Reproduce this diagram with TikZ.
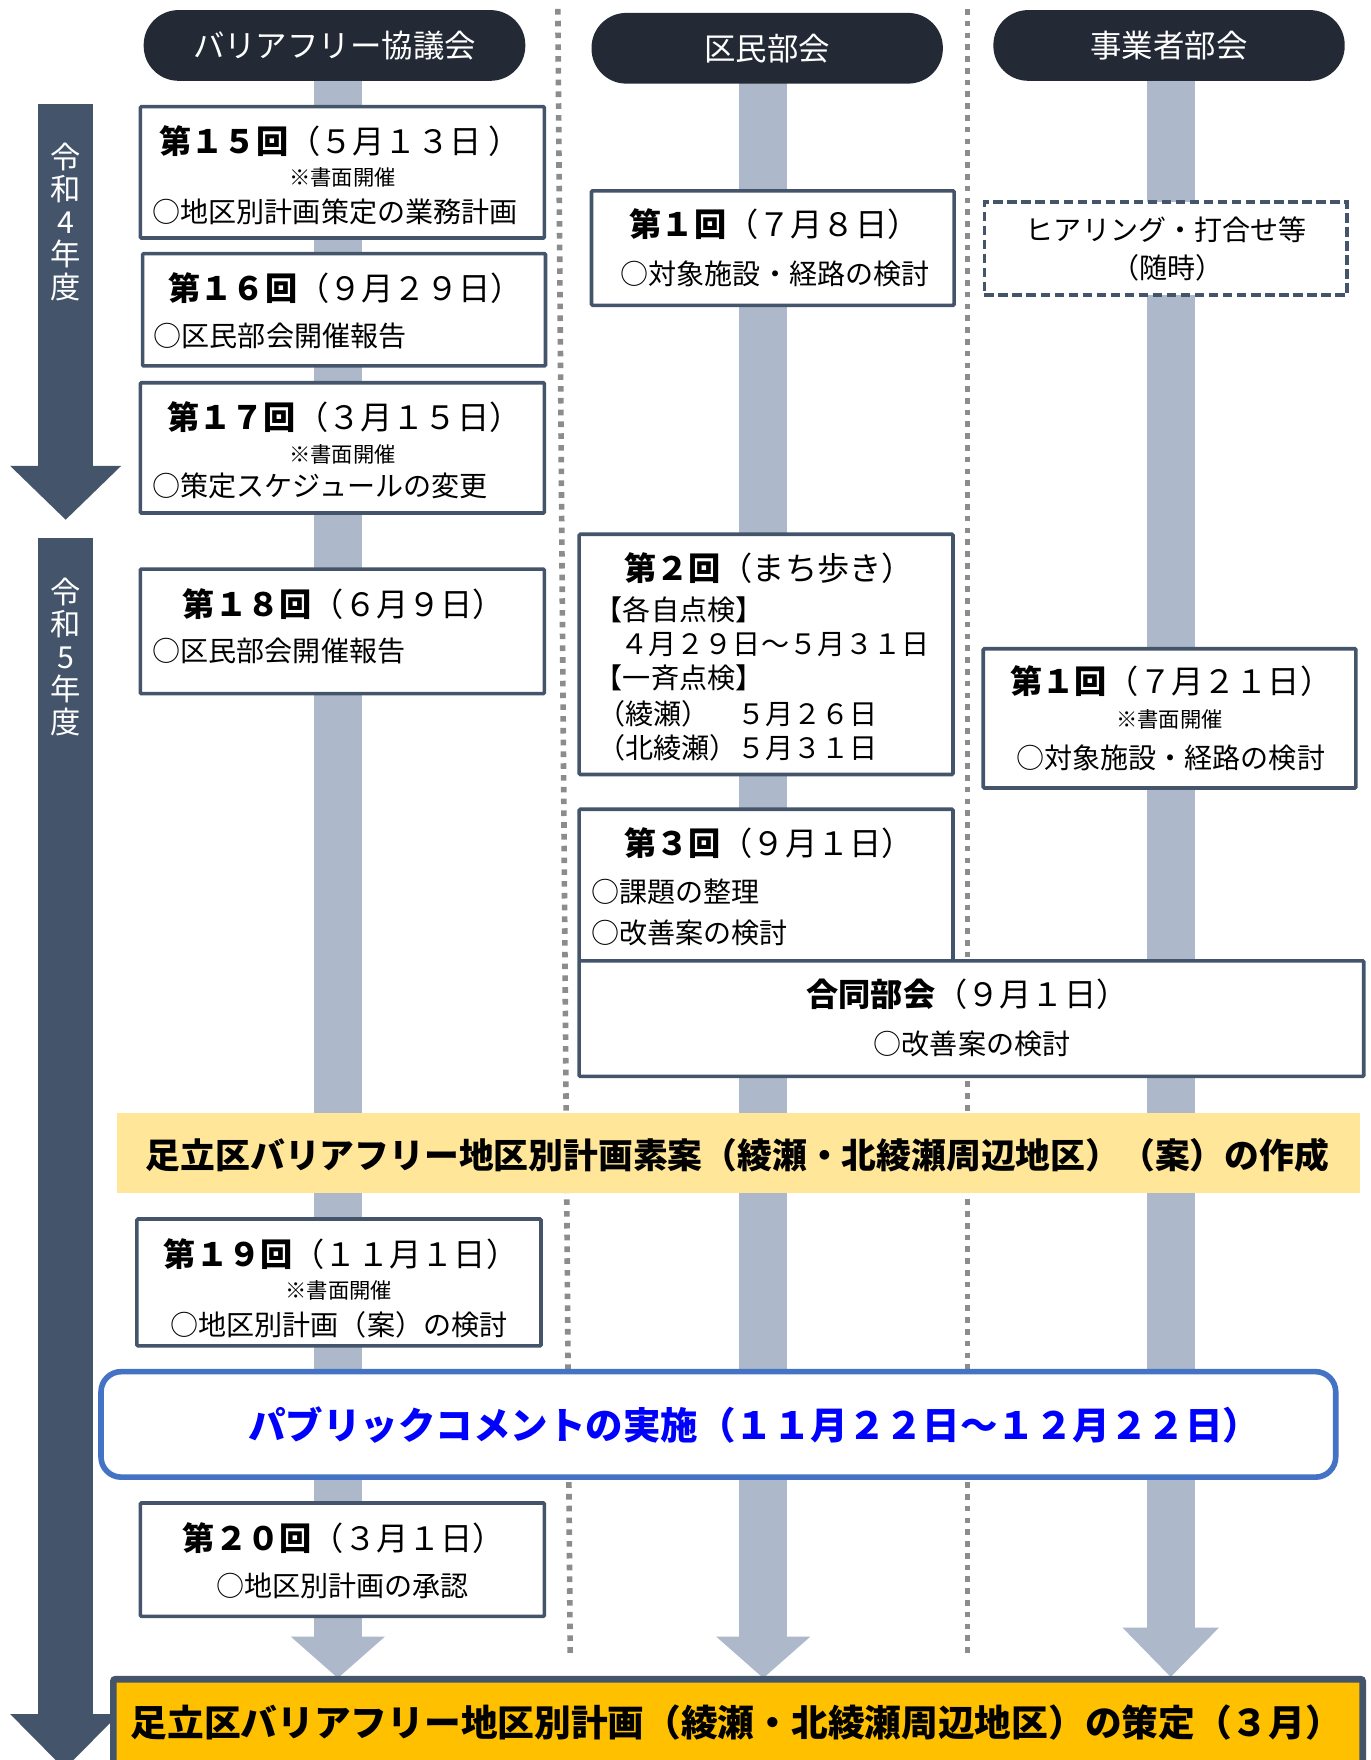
\documentclass[tikz,border=0pt]{standalone}
\usepackage{fontspec}
\setmainfont{Noto Sans CJK JP}
\usetikzlibrary{calc}
\definecolor{navy}{HTML}{232A36}
\definecolor{boxc}{HTML}{44546A}
\definecolor{barc}{HTML}{ADB9CA}
\definecolor{dotc}{HTML}{8C8C8C}
\definecolor{bandA}{HTML}{FFE699}
\definecolor{bandB}{HTML}{FFC000}
\definecolor{pubc}{HTML}{4472C4}
\definecolor{pubt}{HTML}{0000FF}
\newcommand\fsz[1]{\fontsize{#1}{#1}\selectfont}
\begin{document}
\begin{tikzpicture}[x=1pt,y=-1pt,
  every node/.style={inner sep=0pt, outer sep=0pt},
  pill/.style={fill=navy, rounded corners=31pt, text=white, font=\fsz{28}, minimum height=63pt},
  boxst/.style={draw=boxc, line width=3.2pt, fill=white, anchor=north west, rounded corners=1pt},
  dashbox/.style={draw=boxc, line width=3.2pt, dash pattern=on 8.5pt off 4pt, fill=white, anchor=north west},
  ttl/.style={font=\fsz{28.7}},
  body/.style={font=\fsz{25}},
  note/.style={font=\fsz{19}},
  yr/.style={text=white, font=\fontsize{27}{29}\selectfont, align=center},
  bar/.style={fill=barc},
  sep/.style={draw=dotc, line width=5pt, dash pattern=on 5pt off 5.5pt},
  arrowc/.style={fill=boxc},
]
\path[use as bounding box] (0,0) rectangle (1221,1568);

% column bars
\fill[bar] (279.5,60) rectangle (322.5,1459);
\fill[bar] (259,1458) -- (343,1458) -- (301,1495) -- cycle;
\fill[bar] (658.5,60) rectangle (701.5,1459);
\fill[bar] (638,1458) -- (722,1458) -- (680,1495) -- cycle;
\fill[bar] (1021.5,60) rectangle (1064.5,1451);
\fill[bar] (1000,1450) -- (1086,1450) -- (1043,1494) -- cycle;

% separators
\coordinate (s1a) at (497,8); \coordinate (s1b) at (508,1476);
\coordinate (s2a) at (862,8); \coordinate (s2b) at (862,1476);
\draw[sep] (s1a) -- (s1b);
\draw[sep] (s2a) -- (s2b);

% headers
\node[pill, minimum width=340pt] (h1) at (298,40.5) {バリアフリー協議会};
\node[pill, minimum width=313pt] (h2) at (683.5,43) {区民部会};
\node[pill, minimum width=313pt] (h3) at (1041.5,40.5) {事業者部会};

% year arrows
\fill[arrowc] (34,93) rectangle (83,416);
\fill[arrowc] (9,415) -- (108,415) -- (58.5,463) -- cycle;
\node[yr] (y4) at (58.5,197.5) {令\\和\\4\\年\\度};
\fill[arrowc] (34,479) rectangle (83,1528);
\fill[arrowc] (9,1527) -- (106,1527) -- (57.5,1576) -- cycle;
\node[yr] (y5) at (58.5,585) {令\\和\\5\\年\\度};

% column 1
\node[boxst, minimum width=360pt, minimum height=117pt] (b15) at (125,95) {};
\node[ttl, anchor=west] (b15t) at (142,126) {{\bfseries 第１５回}（５月１３日\hspace{6pt}）};
\node[note] (b15n) at (305,158) {※書面開催};
\node[body, anchor=west] (b15c) at (136,189) {○地区別計画策定の業務計画};

\node[boxst, minimum width=359pt, minimum height=100pt] (b16) at (127,226) {};
\node[ttl, anchor=west] (b16t) at (150,257) {{\bfseries 第１６回}（９月２９日）};
\node[body, anchor=west] (b16c) at (137,299) {○区民部会開催報告};

\node[boxst, minimum width=360pt, minimum height=116pt] (b17) at (125,341) {};
\node[ttl, anchor=west] (b17t) at (149,372) {{\bfseries 第１７回}（３月１５日）};
\node[note] (b17n) at (305,405) {※書面開催};
\node[body, anchor=west] (b17c) at (136,433) {○策定スケジュールの変更};

\node[boxst, minimum width=360pt, minimum height=111pt] (b18) at (125,507) {};
\node[ttl, anchor=west] (b18t) at (163,538) {{\bfseries 第１８回}（６月９日）};
\node[body, anchor=west] (b18c) at (136,580) {○区民部会開催報告};

\node[boxst, minimum width=360pt, minimum height=113pt] (b19) at (122,1086) {};
\node[ttl, anchor=west] (b19t) at (146,1117) {{\bfseries 第１９回}（１１月１日）};
\node[note] (b19n) at (302,1150) {※書面開催};
\node[body] (b19c) at (302,1180) {○地区別計画（案）の検討};

\node[boxst, minimum width=360pt, minimum height=101pt] (b20) at (125,1339) {};
\node[ttl, anchor=west] (b20t) at (163,1370) {{\bfseries 第２０回}（３月１日）};
\node[body] (b20c) at (305,1413) {○地区別計画の承認};

% column 2
\node[boxst, minimum width=323pt, minimum height=102pt] (k1) at (527,170) {};
\node[ttl, anchor=west] (k1t) at (561,200) {{\bfseries 第１回}（７月８日）};
\node[body, anchor=west] (k1c) at (553,244) {○対象施設・経路の検討};

\node[boxst, minimum width=333pt, minimum height=214pt] (k2) at (516,476) {};
\node[ttl, anchor=west] (k2t) at (556,506) {{\bfseries 第２回}（まち歩き）};
\node[body, anchor=west] (k2a) at (530,543) {【各自点検】};
\node[body, anchor=west] (k2b) at (553,574) {４月２９日～５月３１日};
\node[body, anchor=west] (k2c) at (530,604) {【一斉点検】};
\node[body, anchor=west] (k2d) at (532,636) {（綾瀬）　５月２６日};
\node[body, anchor=west] (k2e) at (532,666) {（北綾瀬）５月３１日};

\node[boxst, minimum width=333pt, minimum height=135pt] (k3) at (516,721) {};
\node[ttl, anchor=west] (k3t) at (556,751) {{\bfseries 第３回}（９月１日）};
\node[body, anchor=west] (k3a) at (527,795) {○課題の整理};
\node[body, anchor=west] (k3b) at (527,831) {○改善案の検討};

\node[boxst, minimum width=699pt, minimum height=103pt] (g1) at (516,856) {};
\node[ttl] (g1t) at (862,886) {{\bfseries 合同部会}（９月１日）};
\node[body] (g1c) at (866,930) {○改善案の検討};

% column 3
\node[dashbox, minimum width=323pt, minimum height=83pt] (d1) at (877,180) {};
\node[body] (d1a) at (1039,205) {ヒアリング・打合せ等};
\node[body] (d1b) at (1040,239) {（随時）};

\node[boxst, minimum width=332pt, minimum height=124pt] (j1) at (876,578) {};
\node[ttl, anchor=west] (j1t) at (900,607) {{\bfseries 第１回}（７月２１日）};
\node[note] (j1n) at (1042,641) {※書面開催};
\node[body] (j1c) at (1043,675) {○対象施設・経路の検討};

% bands
\node[fill=bandA, anchor=north west, minimum width=1108pt, minimum height=71pt] (yb) at (104,992) {};
\node[font=\fsz{31}\bfseries] (ybt) at (657,1029) {足立区バリアフリー地区別計画素案（綾瀬・北綾瀬周辺地区）（案）の作成};

\node[draw=pubc, line width=5pt, fill=white, rounded corners=18pt, anchor=north west, minimum width=1100pt, minimum height=94pt] (pc) at (90,1222) {};
\node[font=\fsz{33.4}\bfseries, text=pubt] (pct) at (672,1270) {パブリックコメントの実施（１１月２２日～１２月２２日）};

\node[draw=boxc, line width=6pt, fill=bandB, rounded corners=2pt, anchor=north west, minimum width=1113pt, minimum height=90pt] (fb) at (101,1496) {};
\node[font=\fsz{32.7}\bfseries] (fbt) at (656,1535) {足立区バリアフリー地区別計画（綾瀬・北綾瀬周辺地区）の策定（３月）};
\end{tikzpicture}
\end{document}
